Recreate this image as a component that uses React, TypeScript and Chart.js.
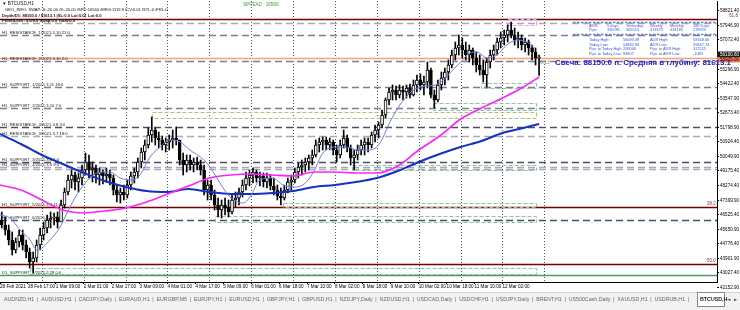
import React, { useEffect, useRef } from "react";
import { Chart, registerables } from "chart.js";

Chart.register(...registerables);

// ---- DATA (2-hour candles from 28 Feb 2021 00:00, BTCUSD) ----
const firstOpen = 46185;
const candleHigh = [
  46667, 46366, 45884, 45463, 45102, 45584, 45584, 44982, 44500, 44260,
  44982, 45704, 46065, 46486, 46667, 46607, 46667, 47389, 48111, 48893,
  49194, 49074, 49014, 49495, 50217, 50097, 49676, 49495, 49315, 49194,
  49315, 49194, 48893, 48292, 48111, 48292, 48593, 49074, 49315, 49917,
  50518, 51000, 51722, 52384, 51722, 51481, 51241, 51120, 51301, 51602,
  51782, 51000, 50217, 50097, 50097, 49917, 49977, 49796, 49495, 48593,
  48593, 47991, 47509, 47389, 47509, 47389, 47690, 47870, 48111, 48593,
  49074, 49194, 49315, 49194, 49074, 49014, 49014, 48893, 48713, 48292,
  48111, 48292, 48713, 48893, 49315, 49616, 49796, 49917, 50097, 50398,
  51000, 51120, 51180, 51180, 51120, 51000, 50699, 51000, 51602, 51301,
  50699, 50398, 50699, 51000, 51120, 51120, 51481, 51903, 52083, 52805,
  53527, 54129, 54310, 54250, 54310, 54250, 54310, 54370, 54611, 54911,
  54972, 54851, 55694, 55333, 54009, 54611, 55092, 55333, 55814, 56416,
  56897, 57319, 57138, 56897, 56717, 56536, 56296, 56115, 55814, 55935,
  56416, 56717, 57138, 57499, 57620, 57920, 58101, 57740, 57499, 57319,
  57138, 57018, 56717, 56536, 56115,
];
const candleLow = [
  45704, 45283, 44681, 44079, 44199, 44561, 44380, 43899, 43297, 42996,
  43658, 44380, 44982, 45403, 45704, 45884, 45704, 46065, 46908, 47690,
  48111, 47991, 47870, 48292, 48893, 48713, 48472, 48412, 48292, 48352,
  48472, 48292, 47690, 47269, 47208, 47389, 47509, 47991, 48412, 48713,
  49315, 49796, 50518, 50879, 50699, 50518, 50398, 50278, 50398, 50518,
  50699, 49495, 48893, 49074, 49194, 49074, 49194, 48893, 47690, 47389,
  47389, 46787, 46366, 46306, 46486, 46366, 46546, 46968, 47088, 47570,
  47991, 48232, 48412, 48472, 48232, 48171, 48111, 47991, 47690, 47389,
  47088, 47389, 47810, 47991, 48412, 48713, 48893, 49074, 49194, 49495,
  49977, 50278, 50398, 50398, 50398, 50097, 49676, 49917, 50518, 50278,
  49495, 49194, 49796, 50097, 50097, 50278, 50518, 50879, 51120, 51722,
  52324, 53106, 53407, 53407, 53527, 53407, 53527, 53527, 53648, 53888,
  54009, 53708, 54129, 53527, 52926, 53287, 54009, 54310, 54611, 55333,
  55814, 56115, 55935, 55814, 55694, 55513, 55092, 54911, 54490, 54189,
  55333, 55814, 56115, 56536, 56717, 56897, 57138, 56717, 56536, 56416,
  56296, 56115, 55814, 55513, 54880,
];
const candleClose = [
  45884, 45584, 44982, 44380, 44861, 45283, 44681, 44260, 43658, 43899,
  44681, 45283, 45704, 46185, 46306, 46366, 46065, 47088, 47870, 48593,
  48893, 48472, 48713, 49194, 49676, 49194, 49315, 48893, 49074, 48833,
  48954, 48713, 47991, 47690, 47870, 47690, 48292, 48833, 49074, 49676,
  50278, 50699, 51301, 51602, 51120, 51000, 50699, 50879, 51000, 51120,
  51000, 49796, 49495, 49796, 49495, 49676, 49495, 49194, 47991, 48292,
  47690, 47088, 46787, 47088, 46908, 46667, 47389, 47509, 47870, 48292,
  48713, 48893, 49074, 48713, 48833, 48472, 48713, 48232, 47991, 47630,
  47509, 47991, 48472, 48593, 49074, 49375, 49495, 49676, 49917, 50097,
  50699, 50879, 51000, 50699, 50879, 50398, 50097, 50699, 51120, 50518,
  49917, 50097, 50398, 50699, 50879, 50699, 51301, 51602, 51903, 52504,
  53407, 53888, 54009, 53708, 54009, 53888, 54129, 53708, 54310, 54611,
  54310, 54490, 55212, 53708, 53407, 54310, 54731, 55092, 55513, 56115,
  56536, 56717, 56416, 56115, 56416, 55935, 55513, 55212, 54911, 55694,
  56115, 56416, 56897, 57138, 57319, 57620, 57319, 57018, 57138, 56717,
  56897, 56536, 56296, 55935, 55935,
];
const spreadPoints = 16560;

const timeTickHours = [0, 16, 32, 48, 64, 80, 96, 112, 128, 144, 160, 176, 192, 208, 224, 240, 256, 272, 288];
const timeTickLabels = [
  "28 Feb 2021", "28 Feb 17:00", "1 Mar 09:00", "2 Mar 01:00", "2 Mar 17:00", "3 Mar 09:00",
  "4 Mar 01:00", "4 Mar 17:00", "5 Mar 09:00", "6 Mar 01:00", "6 Mar 18:00", "7 Mar 10:00",
  "8 Mar 02:00", "8 Mar 18:00", "9 Mar 10:00", "10 Mar 02:00", "10 Mar 18:00", "11 Mar 10:00",
  "12 Mar 02:00",
];
const gridHours = [24, 48, 72, 96, 120, 144, 168, 192, 216, 240, 264, 288, 312];
const priceTicks = [
  42152.9, 43027.4, 43901.9, 44776.4, 45650.9, 46525.4, 47399.9, 48274.4, 49175.4, 50049.9,
  50924.4, 51798.9, 52673.4, 53547.9, 54422.4, 55296.9, 56171.4, 57072.4, 57946.9, 58821.4,
];

// moving averages
const maHours = [0, 12, 24, 36, 48, 60, 72, 84, 96, 108, 120, 132, 144, 156, 168, 180, 192, 204, 216, 228, 240, 252, 264, 276, 288, 300, 309];
const slowMa = [51361, 50759, 50097, 49555, 49014, 48532, 48171, 47931, 47870, 48051, 47870, 47750, 47750, 47810, 47931, 48171, 48292, 48472, 48713, 49134, 49676, 50157, 50579, 50940, 51421, 51722, 51963];
const midMa = [48292, 47991, 47389, 46787, 46607, 46727, 46908, 47269, 47750, 48232, 48713, 48893, 48954, 48893, 48833, 49074, 49074, 49014, 49014, 49435, 50398, 51241, 52264, 52926, 53527, 54189, 54791];
const fastMaHours = [0, 5.7, 11.5, 17.2, 21.2, 28.7, 34.4, 40.1, 45.8, 51.6, 57.3, 63, 68.8, 74.5, 80.2, 86, 91.7, 97.4, 103.2, 108.9, 118.6, 126.1, 131.8, 139.3, 143.3, 149, 156.4, 162.2, 167.9, 173.6, 179.4, 185.1, 193.1, 198.9, 204.6, 212, 217.8, 223.5, 229.2, 235, 240.7, 246.4, 252.1, 257.9, 263.6, 269.3, 273.4, 279.1, 284.8, 290.5, 296.3, 302, 306.6];
const fastMa = [46486, 46306, 45584, 44982, 44380, 44982, 45764, 46968, 47991, 48713, 49074, 49074, 48713, 48593, 48893, 49977, 50578, 51000, 50879, 50398, 49616, 48412, 47570, 47208, 47570, 48593, 48713, 48292, 48171, 48292, 49014, 50217, 50578, 50578, 50398, 50398, 50819, 52083, 53106, 53828, 54189, 54250, 54430, 55032, 55634, 56235, 56296, 55935, 56115, 56717, 57018, 56897, 56536];

// horizontal levels
const darkDashedLevels = [51782, 49676, 46185];
const midDashedLevels = [57319, 55754, 54189, 52926];
const lightDashedLevels = [58041, 51241, 49375, 49255];
const fiboLevels = [58282, 46968, 43537];
const fiboLabels = ["61.8", "38.2", "50.0"];
const d1SupportLevel = 42875;
const levelNamePrices = [57319, 55754, 54189, 52926, 51782, 51241, 49676, 49375, 46968, 46185, 42875];
const levelNames = [
  "H1_RESISTANCE_1/2021.3.10 21:0", "H1_RESISTANCE_2/2021.3.10 2:0", "H1_SUPPORT_1/2021.3.11 18:0",
  "H1_SUPPORT_2/2021.3.10 7:0", "H1_RESISTANCE_4/2021.3.8 3:0", "H1_RESISTANCE_3/2021.3.7 18:0",
  "H1_SUPPORT_3/2021.3.6 1:0", "H1_SUPPORT_4/2021.3.5 9:0", "H1_SUPPORT_5/2021.3.4 11:0",
  "H1_SUPPORT_6/2021.3.2 10:0", "D1_SUPPORT_1/2021.2.28 0:0",
];
// zone boxes: start hour, end hour, low, high
const greenBoxStart = [123, 162, 202, 248, 276, 17];
const greenBoxEnd = [307, 307, 307, 307, 307, 307];
const greenBoxLow = [46065, 46968, 49194, 52805, 54129, 42936];
const greenBoxHigh = [46426, 47208, 49495, 53226, 54430, 43297];
const oliveBox = [87, 307, 52324, 52685];
const pinkBox = [291, 307, 57920, 58282];

// texts
const headerLines = [
  "▼ BTCUSD,H1",
  "GEO_INFO: SWAP: S:-20.00 /S:-20.00 /SPD:16560 /MRG:1119.9 /CV:0.01 /STL:0 /FRL:0",
  "Depth/D1: 88150.0 / 81613.1 |SL:0.0 Lot:0.01 Lot:0.0",
  "Profit/Loss: 0.0/0.0 Swap:0.0 Total:0.0",
];
const adrHeader = ["ADR:", "5 days", "Yesterday", "Weekly", "Monthly", "180 Days"];
const adrPips = ["Pips:", "332091", "365513", "413673", "434185", "179925"];
const todayStats = [
  ["Today High:", "58083.39", "ADR High:", "59168.66"],
  ["Today Low:", "54882.84", "ADR Low:", "55847.74"],
  ["Pips to Today High:", "209008", "Pips to ADR High:", "317515"],
  ["Pips to Today Low:", "94907", "Pips to ADR Low:", "-1083"],
];
const candleInfo = "Свеча: 88150.0 п. Средняя в глубину: 81613.1";
const tabNames = [
  "AUDNZD,H1", "AUDUSD,H1", "CADJPY,Daily", "EURAUD,H1", "EURGBP,M5", "EURJPY,H1", "EURUSD,H1",
  "GBPJPY,H1", "GBPUSD,H1", "NZDJPY,Daily", "NZDUSD,H1", "USDCAD,Daily", "USDCHF,H1", "USDJPY,Daily",
  "BRENT,H1", "US500Cash,Daily", "XAUUSD,H1", "USDRUB,H1",
];
const activeTab = "BTCUSD,H";

const F = '"Liberation Sans", "DejaVu Sans", Arial, sans-serif';

function hline(ctx: CanvasRenderingContext2D, x0: number, x1: number, py: number) {
  ctx.beginPath();
  ctx.moveTo(x0, py);
  ctx.lineTo(x1, py);
  ctx.stroke();
}

const overlay = {
  id: "overlay",
  beforeDatasetsDraw(chart: any) {
    const { ctx, chartArea: a, scales } = chart;
    const x = scales.x, y = scales.y;
    const P = (v: number) => Math.round(y.getPixelForValue(v)) + 0.5;
    ctx.save();
    ctx.beginPath();
    ctx.rect(a.left, a.top, a.right - a.left, a.bottom - a.top);
    ctx.clip();
    // vertical dotted grid
    ctx.strokeStyle = "#555";
    ctx.lineWidth = 1;
    ctx.setLineDash([1, 2]);
    gridHours.forEach((h) => {
      const px = Math.round(x.getPixelForValue(h)) + 0.5;
      ctx.beginPath();
      ctx.moveTo(px, a.top);
      ctx.lineTo(px, a.bottom);
      ctx.stroke();
    });
    // dashed levels
    ctx.setLineDash([7, 4]);
    ctx.lineWidth = 1.5;
    ctx.strokeStyle = "#a9a9bb";
    lightDashedLevels.forEach((v) => hline(ctx, a.left, a.right, P(v)));
    ctx.strokeStyle = "#7d7d95";
    midDashedLevels.forEach((v) => hline(ctx, a.left, a.right, P(v)));
    ctx.strokeStyle = "#4e4e66";
    darkDashedLevels.forEach((v) => hline(ctx, a.left, a.right, P(v)));
    // solid levels
    ctx.setLineDash([]);
    ctx.strokeStyle = "#7a0000";
    fiboLevels.forEach((v) => hline(ctx, a.left, a.right, P(v)));
    ctx.strokeStyle = "#4c9a6a";
    hline(ctx, a.left, a.right, P(d1SupportLevel));
    // bid line
    const bid = candleClose[candleClose.length - 1];
    ctx.strokeStyle = "#f4a27c";
    hline(ctx, a.left, a.right, P(bid));
    // boxes
    ctx.lineWidth = 1;
    ctx.setLineDash([4, 2]);
    const box = (b: number[], color: string) => {
      const x0 = Math.round(x.getPixelForValue(b[0])) + 0.5;
      const x1 = Math.round(x.getPixelForValue(b[1])) + 0.5;
      const y0 = P(b[3]);
      const y1 = P(b[2]);
      ctx.strokeStyle = color;
      ctx.strokeRect(x0, y0, x1 - x0, y1 - y0);
    };
    greenBoxStart.forEach((s, i) => box([s, greenBoxEnd[i], greenBoxLow[i], greenBoxHigh[i]], "#8cc69c"));
    box(oliveBox, "#b2c27a");
    box(pinkBox, "#e6a6e6");
    ctx.setLineDash([]);
    // level names
    ctx.font = `4.2px ${F}`;
    ctx.fillStyle = "#222";
    ctx.textBaseline = "bottom";
    levelNames.forEach((t, i) => ctx.fillText(t, a.left + 2, P(levelNamePrices[i]) - 1));
    // fibo labels
    ctx.fillStyle = "#a03030";
    ctx.font = `4.5px ${F}`;
    fiboLevels.forEach((v, i) => {
      if (i > 0) ctx.fillText(fiboLabels[i], a.right - 10, P(v) - 1);
    });
    ctx.restore();
  },
  afterDraw(chart: any) {
    const { ctx, chartArea: a, scales, width, height } = chart;
    const y = scales.y;
    ctx.save();
    ctx.textBaseline = "middle";
    // price axis labels
    ctx.font = `4.6px ${F}`;
    ctx.fillStyle = "#000";
    ctx.strokeStyle = "#000";
    ctx.lineWidth = 1;
    priceTicks.forEach((v) => {
      const py = Math.round(y.getPixelForValue(v)) + 0.5;
      hline(ctx, a.right, a.right + 2, py);
      ctx.fillText(v.toFixed(2), a.right + 3, py);
    });
    // price boxes
    const bid = candleClose[candleClose.length - 1];
    const ask = bid + spreadPoints / 100;
    const by = y.getPixelForValue(bid);
    ctx.fillStyle = "#f07a4a";
    ctx.fillRect(a.right, by - 1, width - a.right, 5.5);
    ctx.fillStyle = "#000";
    ctx.fillText(bid.toFixed(2), a.right + 3, by + 1.8);
    ctx.fillStyle = "#1a1a1a";
    ctx.fillRect(a.right, by - 6.5, width - a.right, 5.5);
    ctx.fillStyle = "#fff";
    ctx.fillText(ask.toFixed(2), a.right + 3, by - 3.7);
    // top fib label
    ctx.fillStyle = "#a03030";
    ctx.fillText(fiboLabels[0], a.right + 12, y.getPixelForValue(fiboLevels[0]) - 3);
    // green label near last candle
    ctx.fillStyle = "#5aaa70";
    ctx.font = `5px ${F}`;
    ctx.fillText("6.13", chart.scales.x.getPixelForValue(309) + 1, by + 5);
    // header
    ctx.fillStyle = "#111";
    ctx.font = `4.6px ${F}`;
    ctx.fillText(headerLines[0], 2, 4);
    ctx.font = `4.1px ${F}`;
    ctx.fillText(headerLines[1], 5, 10);
    ctx.font = `bold 4.1px ${F}`;
    ctx.fillText(headerLines[2], 2, 16);
    ctx.fillText(headerLines[3], 2, 20.5);
    ctx.fillStyle = "#33aa33";
    ctx.font = `4.6px ${F}`;
    ctx.fillText("SPREAD : " + spreadPoints, 243, 5);
    // info panel dashed separators
    ctx.strokeStyle = "#6a80d8";
    ctx.lineWidth = 1.3;
    ctx.setLineDash([2.5, 1.5]);
    hline(ctx, 573, a.right, 22.5);
    hline(ctx, 573, a.right, 34.5);
    ctx.setLineDash([]);
    ctx.fillStyle = "#3a5ad0";
    ctx.font = `3.9px ${F}`;
    const colA = [589, 607, 626, 650, 670, 693];
    adrHeader.forEach((t, i) => ctx.fillText(t, colA[i], 25.5));
    adrPips.forEach((t, i) => ctx.fillText(t, colA[i], 29.5));
    const colB = [589, 623, 650, 693];
    const rowsB = [40, 44.5, 49, 53.5];
    todayStats.forEach((row, r) => row.forEach((t, c) => ctx.fillText(t, colB[c], rowsB[r])));
    ctx.fillStyle = "#1c1cc8";
    ctx.font = `bold 7.9px ${F}`;
    ctx.fillText(candleInfo, 555, 62.5);
    // tab bar
    const top = height - 18;
    ctx.fillStyle = "#f2f2f2";
    ctx.fillRect(0, top, width, 18);
    ctx.strokeStyle = "#d0d0d0";
    ctx.lineWidth = 1;
    hline(ctx, 0, width, top + 0.5);
    ctx.font = `5.3px ${F}`;
    ctx.fillStyle = "#666";
    const widths = tabNames.map((t) => ctx.measureText(t).width);
    const total = widths.reduce((s, w) => s + w, 0);
    const gap = (692 - 4 - total) / tabNames.length;
    let cx = 4;
    const ty = top + 8;
    tabNames.forEach((t, i) => {
      ctx.fillText(t, cx, ty);
      cx += widths[i];
      ctx.fillText("|", cx + gap / 2 - 0.8, ty);
      cx += gap;
    });
    ctx.fillStyle = "#fff";
    ctx.fillRect(697, top, 28, 15);
    ctx.strokeStyle = "#888";
    ctx.strokeRect(697.5, top + 0.5, 27, 14);
    ctx.fillStyle = "#222";
    ctx.font = `bold 5.3px ${F}`;
    ctx.fillText(activeTab, 700, ty);
    ctx.font = `4.5px "DejaVu Sans", sans-serif`;
    ctx.fillStyle = "#444";
    ctx.fillText("◄", 727, ty);
    ctx.fillText("►", 734, ty);
    ctx.restore();
  },
};

export default function App() {
  const ref = useRef<HTMLCanvasElement | null>(null);
  useEffect(() => {
    document.body.style.margin = "0";
    document.body.style.overflow = "hidden";
    const opens = candleClose.map((c, i) => (i === 0 ? firstOpen : candleClose[i - 1]));
    const cxh = (i: number) => i * 2 + 1;
    const wickData = candleHigh.map((h, i) => ({ x: cxh(i), y: [candleLow[i], h] }));
    const bodyData = candleClose.map((c, i) => ({ x: cxh(i), y: [opens[i], c] }));
    const bodyColors = candleClose.map((c, i) => (c >= opens[i] ? "#ffffff" : "#000000"));
    const chart = new Chart(ref.current as HTMLCanvasElement, {
      type: "bar",
      data: {
        datasets: [
          {
            type: "line",
            data: fastMaHours.map((h, i) => ({ x: h, y: fastMa[i] })),
            borderColor: "#6c7ef0",
            borderWidth: 1,
            pointRadius: 0,
            cubicInterpolationMode: "monotone",
            order: 0,
          } as any,
          {
            type: "line",
            data: maHours.map((h, i) => ({ x: h, y: midMa[i] })),
            borderColor: "#ff22ff",
            borderWidth: 1.6,
            pointRadius: 0,
            cubicInterpolationMode: "monotone",
            order: 0,
          } as any,
          {
            type: "line",
            data: maHours.map((h, i) => ({ x: h, y: slowMa[i] })),
            borderColor: "#1530c4",
            borderWidth: 2,
            pointRadius: 0,
            cubicInterpolationMode: "monotone",
            order: 0,
          } as any,
          {
            type: "bar",
            data: bodyData,
            backgroundColor: bodyColors,
            borderColor: "#000",
            borderWidth: 1,
            borderSkipped: false,
            barThickness: 3,
            minBarLength: 1,
            grouped: false,
            order: 1,
          } as any,
          {
            type: "bar",
            data: wickData,
            backgroundColor: "#000",
            barThickness: 1,
            grouped: false,
            order: 2,
          } as any,
        ],
      },
      options: {
        animation: false,
        responsive: true,
        maintainAspectRatio: false,
        layout: { padding: { top: 1, left: 0, right: 0, bottom: 0 } },
        plugins: { legend: { display: false }, tooltip: { enabled: false } },
        scales: {
          x: {
            type: "linear",
            min: 0,
            max: 411,
            offset: false,
            afterBuildTicks: (s: any) => {
              s.ticks = timeTickHours.map((v) => ({ value: v }));
            },
            afterFit: (s: any) => {
              s.height = 28;
            },
            ticks: {
              autoSkip: false,
              maxRotation: 0,
              align: "start",
              padding: 0,
              color: "#000",
              font: { size: 4.6, family: F },
              callback: (_v: any, i: number) => timeTickLabels[i],
            },
            grid: { display: true, drawOnChartArea: false, drawTicks: true, tickLength: 2, color: "#000", offset: false },
            border: { display: true, color: "#000" },
          },
          y: {
            type: "linear",
            position: "right",
            min: 42454,
            max: 59365,
            ticks: { display: false },
            grid: { display: false, drawTicks: false },
            border: { display: true, color: "#000" },
            afterFit: (s: any) => {
              s.width = 23;
            },
          },
        },
      } as any,
      plugins: [overlay],
    });
    return () => chart.destroy();
  }, []);
  return (
    <div style={{ width: 740, height: 310, position: "relative", background: "#fff" }}>
      <canvas ref={ref} />
    </div>
  );
}
